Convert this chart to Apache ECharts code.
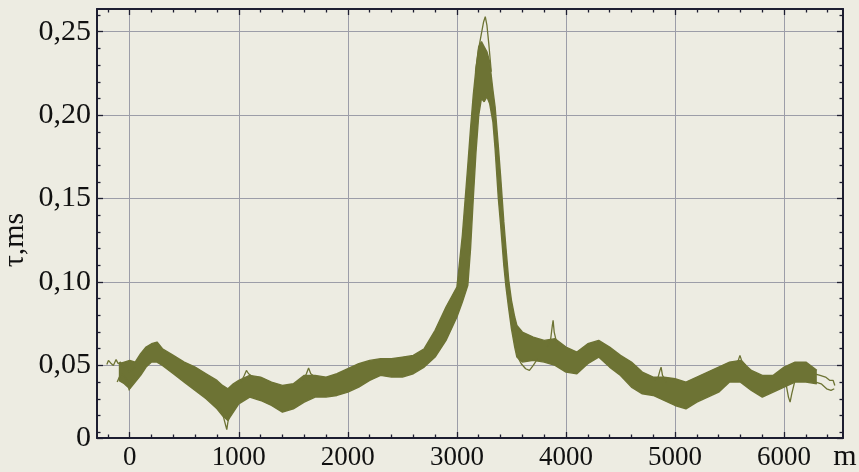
<!DOCTYPE html>
<html><head><meta charset="utf-8">
<script src="https://cdn.jsdelivr.net/npm/echarts@6/dist/echarts.min.js"></script>
<style>html,body{margin:0;padding:0;background:#EDECE2}#c{width:859px;height:472px}</style>
</head><body><div id="c"></div>
<script>
// ---- axis ranges / ticks ----
const xMin = -300, xMax = 6540;
const yMin = 0.0065, yMax = 0.2636;
const xMajorTicks = [0, 1000, 2000, 3000, 4000, 5000, 6000];
const xMinorTicks = [-200, 200, 400, 600, 800, 1200, 1400, 1600, 1800, 2200, 2400, 2600, 2800, 3200, 3400, 3600, 3800, 4200, 4400, 4600, 4800, 5200, 5400, 5600, 5800, 6200, 6400];
const yMajorTicks = [0.0065, 0.05, 0.10, 0.15, 0.20, 0.25];
const yMinorTicks = [0.01, 0.02, 0.03, 0.04, 0.06, 0.07, 0.08, 0.09, 0.11, 0.12, 0.13, 0.14, 0.16, 0.17, 0.18, 0.19, 0.21, 0.22, 0.23, 0.24, 0.26];

// ---- band of overlapping traces (lower / upper envelope) ----
const bandX = [-100, -50, 0, 50, 100, 150, 200, 250, 300, 400, 500, 600, 700, 800, 850, 900, 950, 1000, 1100, 1200, 1300, 1400, 1500, 1600, 1700, 1800, 1900, 2000, 2100, 2200, 2300, 2400, 2500, 2600, 2700, 2800, 2900, 3000, 3050, 3100, 3125, 3150, 3175, 3200, 3225, 3250, 3275, 3300, 3330, 3350, 3380, 3400, 3430, 3450, 3475, 3500, 3530, 3550, 3600, 3700, 3800, 3900, 4000, 4100, 4200, 4300, 4400, 4500, 4600, 4700, 4800, 4900, 5000, 5100, 5200, 5300, 5400, 5500, 5600, 5700, 5800, 5900, 6000, 6100, 6200, 6300];
const bandLower = [0.041, 0.039, 0.036, 0.040, 0.044, 0.049, 0.052, 0.052, 0.050, 0.045, 0.040, 0.035, 0.030, 0.024, 0.020, 0.017, 0.022, 0.027, 0.031, 0.029, 0.026, 0.022, 0.024, 0.028, 0.031, 0.031, 0.032, 0.034, 0.037, 0.041, 0.044, 0.043, 0.043, 0.045, 0.049, 0.055, 0.065, 0.079, 0.088, 0.098, 0.120, 0.150, 0.178, 0.200, 0.210, 0.208, 0.211, 0.207, 0.196, 0.180, 0.150, 0.135, 0.110, 0.097, 0.084, 0.072, 0.061, 0.055, 0.052, 0.053, 0.052, 0.050, 0.046, 0.045, 0.051, 0.055, 0.049, 0.044, 0.037, 0.033, 0.032, 0.029, 0.026, 0.024, 0.028, 0.031, 0.034, 0.040, 0.040, 0.035, 0.031, 0.034, 0.037, 0.040, 0.040, 0.039];
const bandUpper = [0.051, 0.052, 0.053, 0.052, 0.057, 0.061, 0.063, 0.064, 0.060, 0.056, 0.052, 0.049, 0.045, 0.041, 0.038, 0.036, 0.039, 0.041, 0.044, 0.043, 0.040, 0.038, 0.039, 0.044, 0.044, 0.043, 0.045, 0.048, 0.051, 0.053, 0.054, 0.054, 0.055, 0.056, 0.060, 0.071, 0.085, 0.097, 0.128, 0.170, 0.192, 0.212, 0.228, 0.241, 0.244, 0.241, 0.238, 0.232, 0.215, 0.205, 0.181, 0.164, 0.136, 0.120, 0.101, 0.089, 0.079, 0.074, 0.070, 0.067, 0.065, 0.066, 0.061, 0.058, 0.063, 0.065, 0.061, 0.056, 0.052, 0.046, 0.043, 0.043, 0.042, 0.040, 0.043, 0.046, 0.049, 0.052, 0.053, 0.047, 0.044, 0.044, 0.049, 0.052, 0.052, 0.047];

// ---- individual stray traces ----
const traceStart = [[-210,0.0505],[-195,0.053],[-175,0.0515],[-150,0.050],[-125,0.0535],[-105,0.051],[-85,0.052],[-60,0.049],[-35,0.050],[-10,0.046],[20,0.047],[50,0.049]];
const traceStartLow = [[-115,0.040],[-95,0.043],[-70,0.045],[-45,0.043],[-20,0.041],[-5,0.035],[10,0.040],[40,0.044]];
const traceDip900 = [[790,0.026],[830,0.024],[860,0.019],[880,0.014],[890,0.0115],[900,0.016],[920,0.021],[960,0.025]];
const traceBump1070 = [[1020,0.040],[1050,0.044],[1070,0.047],[1090,0.045],[1130,0.043]];
const traceBump1640 = [[1590,0.041],[1620,0.045],[1640,0.0485],[1660,0.045],[1700,0.043]];
const tracePeakTop = [[3170,0.226],[3200,0.240],[3225,0.249],[3245,0.256],[3260,0.259],[3275,0.254],[3292,0.243],[3315,0.226]];
const traceLow3660 = [[3550,0.056],[3590,0.051],[3630,0.048],[3665,0.047],[3700,0.050],[3740,0.054]];
const traceSpike3880 = [[3830,0.061],[3860,0.066],[3875,0.074],[3882,0.077],[3892,0.070],[3920,0.062]];
const traceSpike4870 = [[4810,0.041],[4845,0.043],[4862,0.047],[4872,0.049],[4885,0.044],[4920,0.040]];
const traceSpike5600 = [[5550,0.051],[5580,0.053],[5595,0.056],[5610,0.053],[5650,0.050]];
const traceDip6055 = [[5980,0.041],[6020,0.038],[6040,0.031],[6055,0.028],[6070,0.033],[6100,0.041]];
const traceEndA = [[6240,0.047],[6280,0.045],[6330,0.044],[6380,0.043],[6420,0.041],[6450,0.041],[6465,0.038]];
const traceEndB = [[6240,0.043],[6290,0.040],[6340,0.039],[6390,0.036],[6430,0.035],[6460,0.036]];

const strayTraces = [traceStart, traceStartLow, traceDip900, traceBump1070, traceBump1640, tracePeakTop, traceLow3660, traceSpike3880, traceSpike4870, traceSpike5600, traceDip6055, traceEndA, traceEndB];

const OLIVE = '#6D7334';
const AXIS = '#1d1d30';
const GRIDC = '#9C9DA8';
const SERIF = '"Liberation Serif","Times New Roman",serif';

const bandRows = bandX.map((x, i) => [x, bandLower[i], bandUpper[i]]);
const lowerPairs = bandX.map((x, i) => [x, bandLower[i]]);
const upperPairs = bandX.map((x, i) => [x, bandUpper[i]]);

function tickAxis(kind, pos, ticks, len, major) {
  return {
    type: 'value', position: pos,
    min: kind === 'x' ? xMin : yMin, max: kind === 'x' ? xMax : yMax,
    splitNumber: kind === 'x' ? 7 : 5,
    axisLine: { show: major, onZero: false, lineStyle: { color: AXIS, width: 2 } },
    axisTick: { show: true, inside: true, length: len, customValues: ticks, lineStyle: { color: AXIS, width: 1.3 } },
    axisLabel: { show: false },
    splitLine: { show: false }
  };
}

const xAxes = [
  Object.assign(tickAxis('x', 'bottom', xMajorTicks, 6, true), {
    axisLabel: { show: true, customValues: xMajorTicks, margin: 6, fontFamily: SERIF, fontSize: 27, color: '#111', formatter: v => String(v) },
    splitLine: { show: true, lineStyle: { color: GRIDC, width: 1 } }
  }),
  tickAxis('x', 'bottom', xMinorTicks, 3.5, false),
  tickAxis('x', 'top', xMajorTicks, 6, true),
  tickAxis('x', 'top', xMinorTicks, 3.5, false)
];
const yAxes = [
  Object.assign(tickAxis('y', 'left', yMajorTicks, 6, true), {
    axisLabel: { show: true, customValues: yMajorTicks, margin: 6, fontFamily: SERIF, fontSize: 30, color: '#111',
      formatter: v => (v < 0.01 ? '0' : v.toFixed(2).replace('.', ',')) },
    splitLine: { show: true, lineStyle: { color: GRIDC, width: 1 } }
  }),
  tickAxis('y', 'left', yMinorTicks, 3.5, false),
  tickAxis('y', 'right', yMajorTicks, 6, true),
  tickAxis('y', 'right', yMinorTicks, 3.5, false)
];

const series = [
  { type: 'custom', coordinateSystem: 'cartesian2d', data: bandRows, encode: { x: 0, y: [1, 2] }, silent: true, z: 2,
    renderItem: function (params, api) {
      if (params.dataIndex !== 0) return null;
      const top = bandRows.map(r => api.coord([r[0], r[2]]));
      const bot = bandRows.map(r => api.coord([r[0], r[1]])).reverse();
      return { type: 'polygon', shape: { points: top.concat(bot) }, style: { fill: OLIVE } };
    } },
  { type: 'line', data: lowerPairs, symbol: 'none', lineStyle: { color: OLIVE, width: 1.4 }, z: 3 },
  { type: 'line', data: upperPairs, symbol: 'none', lineStyle: { color: OLIVE, width: 1.4 }, z: 3 }
];
strayTraces.forEach(t => series.push({ type: 'line', data: t, symbol: 'none', lineStyle: { color: OLIVE, width: 1.3 }, z: 3 }));

const chart = echarts.init(document.getElementById('c'), null, { renderer: 'canvas' });
chart.setOption({
  animation: false,
  backgroundColor: '#EDECE2',
  grid: { left: 97, right: 16, top: 9, bottom: 34, containLabel: false },
  xAxis: xAxes,
  yAxis: yAxes,
  series: series,
  graphic: [
    { type: 'text', x: 15, y: 240, rotation: Math.PI / 2,
      style: { text: 'τ,ms', fontFamily: SERIF, fontSize: 30, fill: '#111', textAlign: 'center', textVerticalAlign: 'middle' } },
    { type: 'text', x: 845, y: 457,
      style: { text: 'm', fontFamily: SERIF, fontSize: 30, fill: '#111', textAlign: 'center', textVerticalAlign: 'middle' } }
  ]
});
</script></body></html>
